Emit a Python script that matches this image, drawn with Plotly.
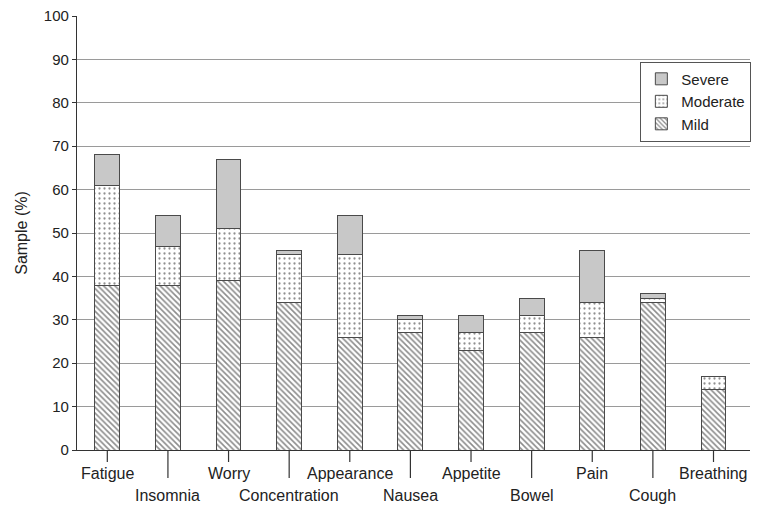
import plotly.graph_objects as go

categories = ["Fatigue", "Insomnia", "Worry", "Concentration", "Appearance", "Nausea",
              "Appetite", "Bowel", "Pain", "Cough", "Breathing"]
mild = [38, 38, 39, 34, 26, 27, 23, 27, 26, 34, 14]
moderate = [23, 9, 12, 11, 19, 3, 4, 4, 8, 1, 3]
severe = [7, 7, 16, 1, 9, 1, 4, 4, 12, 1, 0]
y_ticks = [0, 10, 20, 30, 40, 50, 60, 70, 80, 90, 100]

FONT = "Liberation Sans, Arial, sans-serif"
edge = dict(color="#4a4a4a", width=1)

fig = go.Figure()
fig.add_bar(x=categories, y=mild, name="Mild",
            marker=dict(color="white", line=edge,
                        pattern=dict(shape="\\", fgcolor="#1a1a1a", bgcolor="white",
                                     size=4, solidity=0.4)))
fig.add_bar(x=categories, y=moderate, name="Moderate",
            marker=dict(color="white", line=edge,
                        pattern=dict(shape=".", fgcolor="#222222", bgcolor="white",
                                     size=5, solidity=0.16)))
fig.add_bar(x=categories, y=severe, name="Severe",
            marker=dict(color="#c8c8c8", line=edge))

shapes = []
annotations = []
for i, c in enumerate(categories):
    second = i % 2 == 1
    shapes.append(dict(type="line", xref="x", yref="paper", x0=c, x1=c,
                       y0=0, y1=-(28 / 434) if second else -(12 / 434),
                       line=dict(color="#333333", width=1.2)))
    annotations.append(dict(x=c, xref="x", yref="paper",
                            y=-(45 / 434) if second else -(23 / 434),
                            text=c, showarrow=False, yanchor="middle",
                            font=dict(family=FONT, size=16, color="#222222")))

fig.update_layout(
    barmode="stack",
    width=767, height=508,
    margin=dict(l=77, r=17, t=16, b=58, autoexpand=False),
    paper_bgcolor="white", plot_bgcolor="white",
    bargap=0.59,
    font=dict(family=FONT, size=15, color="#222222"),
    showlegend=True,
    legend=dict(x=1.002, xanchor="right", y=0.895, yanchor="top",
                traceorder="reversed", bordercolor="#555555", borderwidth=1,
                bgcolor="white", font=dict(size=15, family=FONT),
                itemwidth=30, tracegroupgap=0),
    shapes=shapes,
    annotations=annotations,
)
fig.update_xaxes(showticklabels=False, ticks="", showline=True, linecolor="#333333",
                 linewidth=1.2, showgrid=False)
fig.update_yaxes(range=[0, 100], tickvals=y_ticks, showgrid=True, gridcolor="#9a9a9a",
                 gridwidth=1, showline=True, linecolor="#333333", linewidth=1.2,
                 ticks="outside", ticklen=4, tickcolor="#333333",
                 title=dict(text="Sample (%)", font=dict(size=16, family=FONT), standoff=12),
                 tickfont=dict(size=15, family=FONT), zeroline=False)

fig.write_html("out.html", config={"displayModeBar": False},
               post_script="document.body.style.margin='0';document.body.style.overflow='hidden';")
